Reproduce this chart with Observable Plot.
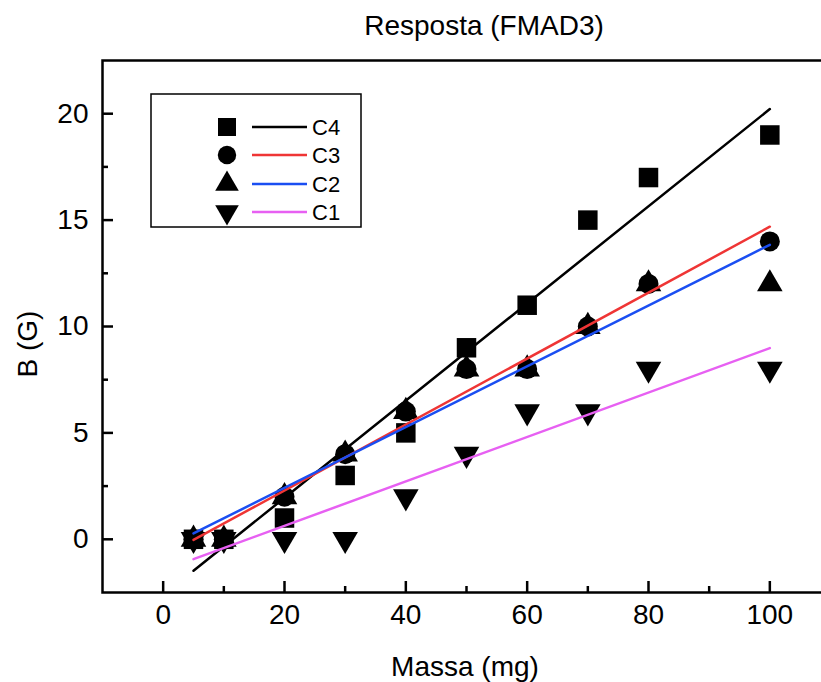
<!DOCTYPE html>
<html>
<head>
<meta charset="utf-8">
<script src="https://cdn.jsdelivr.net/npm/d3@7"></script>
<script src="https://cdn.jsdelivr.net/npm/@observablehq/plot@0.6"></script>
<style>
  html, body { margin: 0; padding: 0; overflow: hidden; background: white; }
  svg { max-width: none !important; }
</style>
</head>
<body>
<div id="chart"></div>
<script>
// ---- data ----
const massa = [5, 10, 20, 30, 40, 50, 60, 70, 80, 100];
const c4 = [0, 0, 1, 3, 5, 9, 11, 15, 17, 19];
const c3 = [0, 0, 2, 4, 6, 8, 8, 10, 12, 14];
const c2 = [0, 0, 2, 4, 6, 8, 8, 10, 12, 12];
const c1 = [0, 0, 0, 0, 2, 4, 6, 6, 8, 8];
const seriesNames = ["C4", "C3", "C2", "C1"];
const seriesValues = [c4, c3, c2, c1];
const seriesColors = ["#000000", "#ef3535", "#1a4ef2", "#e760f2"];
const xTicks = [0, 20, 40, 60, 80, 100];
const xMinorTicks = [10, 30, 50, 70, 90];
const yTicks = [0, 5, 10, 15, 20];
const yMinorTicks = [2.5, 7.5, 12.5, 17.5];
const titleText = "Resposta (FMAD3)";
const xLabel = "Massa (mg)";
const yLabel = "B (G)";

// ---- symbols ----
const triangleDown = {
  draw(context, size) {
    const y = -Math.sqrt(size / (Math.sqrt(3) * 3));
    context.moveTo(0, -2 * y);
    context.lineTo(-Math.sqrt(3) * y, y);
    context.lineTo(Math.sqrt(3) * y, y);
    context.closePath();
  }
};
const seriesSymbols = [d3.symbolSquare, d3.symbolCircle, d3.symbolTriangle, triangleDown];
const seriesRadius = [11, 10, 9.5, 9.5];

const rows = [];
seriesNames.forEach((name, i) => {
  massa.forEach((m, j) => rows.push({series: name, x: m, y: seriesValues[i][j]}));
});

// ---- layout ----
const W = 840, H = 682;
const mL = 102, mT = 60, mB = 90, mR = 10;
const frameW = W - mL - mR, frameH = H - mT - mB;
const FONT = "'Liberation Sans', Arial, sans-serif";

const marks = [];
seriesNames.forEach((name, i) => {
  marks.push(Plot.dot(rows.filter(d => d.series === name), {
    x: "x", y: "y", symbol: seriesSymbols[i], r: seriesRadius[i], fill: "black", stroke: "none"
  }));
});
seriesNames.forEach((name, i) => {
  marks.push(Plot.linearRegressionY(rows.filter(d => d.series === name), {
    x: "x", y: "y", stroke: seriesColors[i], strokeWidth: 2.5, ci: 0
  }));
});
marks.push(
  Plot.tickX(xTicks, {x: d => d, insetTop: frameH - 11, strokeWidth: 2.5}),
  Plot.tickX(xMinorTicks, {x: d => d, insetTop: frameH - 6, strokeWidth: 2.5}),
  Plot.tickY(yTicks, {y: d => d, insetRight: frameW - 11, strokeWidth: 2.5}),
  Plot.tickY(yMinorTicks, {y: d => d, insetRight: frameW - 6, strokeWidth: 2.5}),
  Plot.frame({strokeWidth: 2.5}),
  Plot.axisX({ticks: xTicks, tickSize: 0, tickPadding: 12, label: null, fontSize: 28}),
  Plot.axisY({ticks: yTicks, tickSize: 0, tickPadding: 14, label: null, fontSize: 28})
);

const svg = Plot.plot({
  width: W, height: H,
  marginLeft: mL, marginRight: mR, marginTop: mT, marginBottom: mB,
  style: {fontFamily: FONT, fontSize: "28px", color: "black", background: "white", maxWidth: "none"},
  x: {domain: [-10, 110]},
  y: {domain: [-2.5, 22.5]},
  marks
});
document.getElementById("chart").appendChild(svg);

// ---- titles ----
const s = d3.select(svg);
s.append("text").attr("x", 484).attr("y", 35).attr("text-anchor", "middle")
  .attr("font-family", FONT).attr("font-size", 28).attr("fill", "black").text(titleText);
s.append("text").attr("x", 465).attr("y", 676).attr("text-anchor", "middle")
  .attr("font-family", FONT).attr("font-size", 28).attr("fill", "black").text(xLabel);
s.append("text").attr("transform", "translate(37,344) rotate(-90)").attr("text-anchor", "middle")
  .attr("font-family", FONT).attr("font-size", 28).attr("fill", "black").text(yLabel);

// ---- legend ----
const lg = s.append("g");
lg.append("rect").attr("x", 151).attr("y", 94).attr("width", 210).attr("height", 133)
  .attr("fill", "white").attr("stroke", "black").attr("stroke-width", 1.5);
const rowY = [127, 155, 184, 212];
seriesNames.forEach((name, i) => {
  const y = rowY[i];
  lg.append("path")
    .attr("d", d3.symbol().type(seriesSymbols[i]).size(Math.PI * seriesRadius[i] ** 2 * 0.85)())
    .attr("transform", `translate(227,${y})`).attr("fill", "black");
  lg.append("line").attr("x1", 252).attr("x2", 307).attr("y1", y).attr("y2", y)
    .attr("stroke", seriesColors[i]).attr("stroke-width", 2.5);
  lg.append("text").attr("x", 312).attr("y", y).attr("dy", "0.35em").attr("text-anchor", "start")
    .attr("font-family", FONT).attr("font-size", 22).attr("fill", "black").text(name);
});
</script>
</body>
</html>
